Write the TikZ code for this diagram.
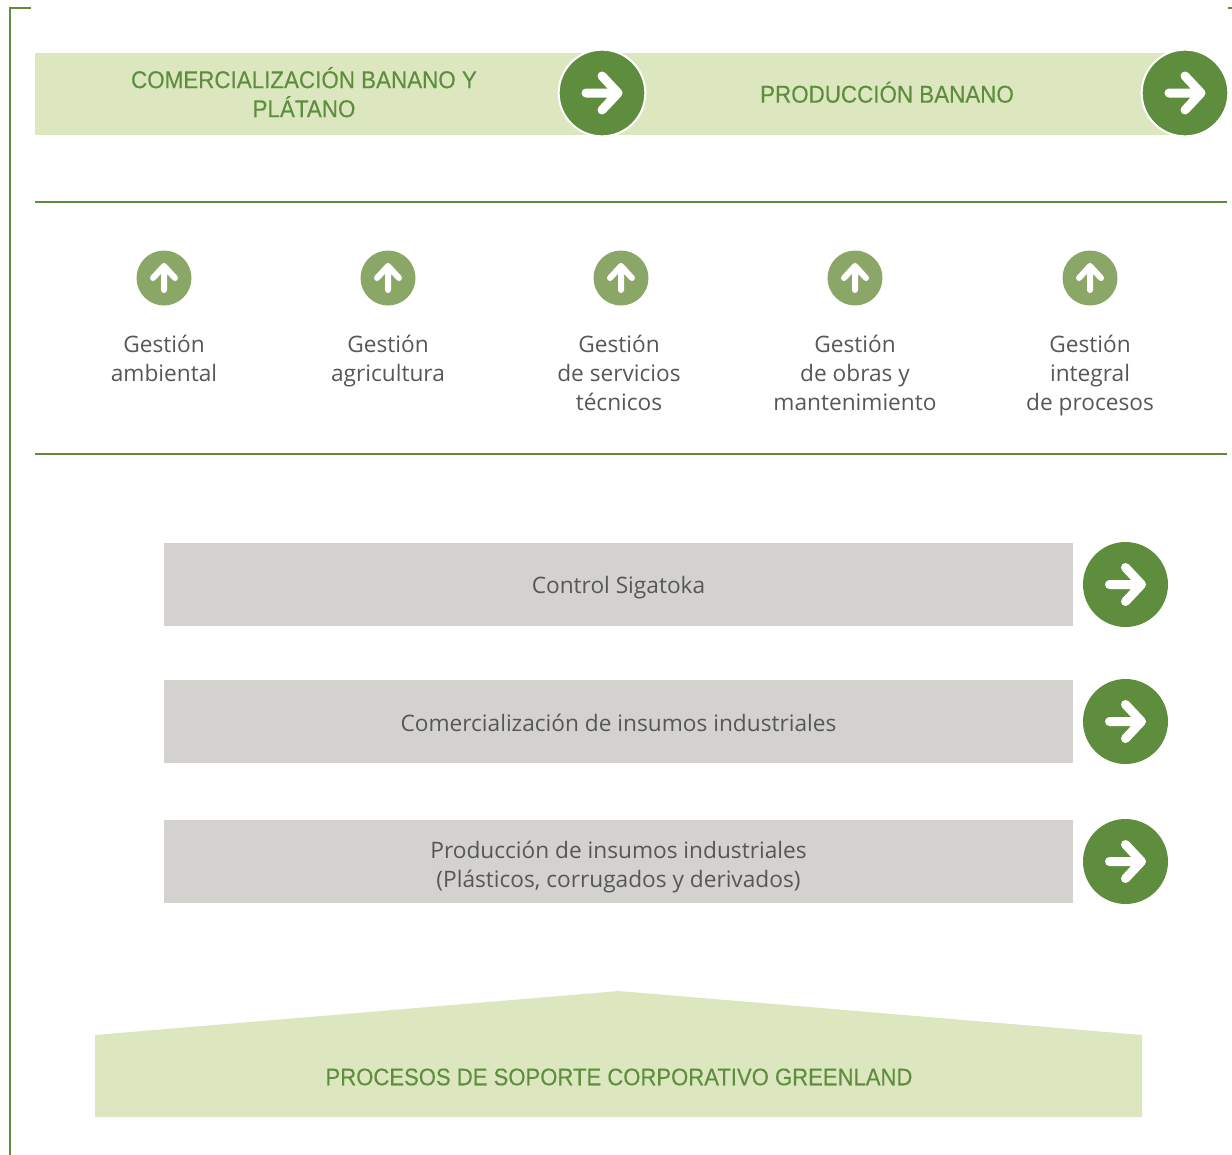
\documentclass[tikz,border=0pt]{standalone}
\usepackage{fontspec}
\setmainfont{Open Sans}
\newfontfamily\headfont[FakeStretch=0.92,FakeBold=0.25]{Liberation Sans}
\definecolor{leafdark}{HTML}{5F8D3E}
\definecolor{leafmid}{HTML}{8AA768}
\definecolor{leaflight}{HTML}{DCE7C0}
\definecolor{stone}{HTML}{D3D2CE}
\definecolor{inktext}{HTML}{575757}
\tikzset{
	bandbox/.style={fill=leaflight,inner sep=0pt,minimum height=49.2pt,align=center,text=leafdark,font=\headfont\fontsize{14.6}{17.4}\selectfont},
	stonebox/.style={fill=stone,inner sep=0pt,minimum width=545.4pt,minimum height=49.5pt,align=center,text=inktext,font=\fontsize{13.6}{17.4}\selectfont},
	bigdot/.style={circle,fill=leafdark,inner sep=0pt,minimum size=51pt},
	smalldot/.style={circle,fill=leafmid,inner sep=0pt,minimum size=33pt},
	gestion/.style={anchor=north,align=center,inner sep=0pt,text=inktext,font=\fontsize{13.6}{17.4}\selectfont},
	rule/.style={leafdark,line width=0.75pt},
	rightarrow/.style={white,line width=5.4pt,line cap=round,line join=round},
	uparrow/.style={white,line width=3.6pt,line cap=round,line join=round}
}
\begin{document}
\begin{tikzpicture}[x=0.6pt,y=-0.6pt]
	\useasboundingbox (0,0) rectangle (1232,1155);
	% frame
	\draw[rule] (31,8) -- (10,8) -- (10,1155);
	\draw[rule] (1228,8) -- (1232,8);
	% top band
	\node[bandbox,minimum width=322.8pt] (comercial) at (304,94) {\rule{0pt}{14.2pt}COMERCIALIZACIÓN BANANO Y\\PLÁTANO\rule[-3.8pt]{0pt}{3.8pt}};
	\node[bandbox,minimum width=376.8pt] (banano) at (887,94) {\rule[-3.8pt]{0pt}{18pt}PRODUCCIÓN BANANO};
	\node[bigdot,draw=white,line width=1.2pt,minimum size=52pt] (dotcomercial) at (602,93) {};
	\node[bigdot,draw=white,line width=1.2pt,minimum size=52pt] (dotbanano) at (1185,93) {};
	\draw[rule] (35,202) -- (1227,202);
	\draw[rule] (35,454) -- (1227,454);
	% gestion row
	\node[smalldot] (dotambiental) at (164,278) {};
	\node[smalldot] (dotagricultura) at (388,278) {};
	\node[smalldot] (dotservicios) at (621,278) {};
	\node[smalldot] (dotobras) at (855,278) {};
	\node[smalldot] (dotintegral) at (1090,278) {};
	\node[gestion] (ambiental) at (164,335) {Gestión\\ambiental};
	\node[gestion] (agricultura) at (388,335) {Gestión\\agricultura};
	\node[gestion] (servicios) at (619,335) {Gestión\\de servicios\\técnicos};
	\node[gestion] (obras) at (855,335) {Gestión\\de obras y\\mantenimiento};
	\node[gestion] (integral) at (1090,335) {Gestión\\integral\\de procesos};
	% grey boxes
	\node[stonebox] (sigatoka) at (618.5,584.5) {\rule[-3pt]{0pt}{17.4pt}Control Sigatoka};
	\node[stonebox] (insumos) at (618.5,721.5) {\rule[-3pt]{0pt}{17.4pt}Comercialización de insumos industriales};
	\node[stonebox] (plasticos) at (618.5,861.5) {\rule{0pt}{16.8pt}Producción de insumos industriales\\(Plásticos, corrugados y derivados)\rule[-3pt]{0pt}{3pt}};
	\node[bigdot] (dotsigatoka) at (1125.5,584.5) {};
	\node[bigdot] (dotinsumos) at (1125.5,721.5) {};
	\node[bigdot] (dotplasticos) at (1125.5,861.5) {};
	% arrows in the dots
	\foreach \d in {dotcomercial,dotbanano,dotsigatoka,dotinsumos,dotplasticos}
		\draw[rightarrow,shift={(\d.center)}] (-16,0) -- (16,0) (0,-17) -- (16,0) -- (0,17);
	\foreach \d in {dotambiental,dotagricultura,dotservicios,dotobras,dotintegral}
		\draw[uparrow,shift={(\d.center)}] (0,12) -- (0,-12) (-11,0) -- (0,-12) -- (11,0);
	% roof
	\fill[leaflight] (95,1035) -- (619,991) -- (1142,1035) -- (1142,1117) -- (95,1117) -- cycle;
	\node[bandbox,fill=none,minimum height=0pt,font=\headfont\fontsize{14.4}{17.4}\selectfont] (soporte) at (619,1077) {PROCESOS DE SOPORTE CORPORATIVO GREENLAND};
\end{tikzpicture}
\end{document}
